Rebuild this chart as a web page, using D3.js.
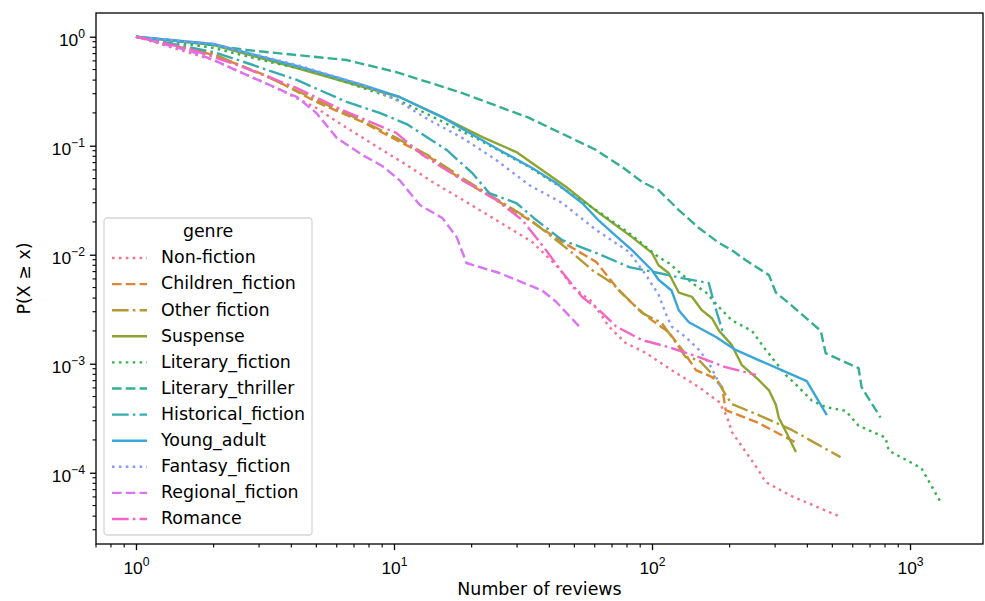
<!DOCTYPE html>
<html>
<head>
<meta charset="utf-8">
<script src="https://cdn.jsdelivr.net/npm/d3@7"></script>
<style>
  body { margin: 0; background: #fff; }
  svg { display: block; font-family: "DejaVu Sans", sans-serif; }
</style>
</head>
<body>
<svg id="chart" width="985" height="601"></svg>
<script>
// CCDF of reviews per genre: [reviews, P(X >= x)]
var genres = ['Non-fiction', 'Children_fiction', 'Other fiction', 'Suspense', 'Literary_fiction',
  'Literary_thriller', 'Historical_fiction', 'Young_adult', 'Fantasy_fiction', 'Regional_fiction', 'Romance'];

var nonFiction = [[1,1],[2,0.61],[3.5,0.338],[5,0.222],[6.3,0.155],[9,0.0914],[11.2,0.0665],[14.1,0.0465],
  [19.1,0.0304],[25.6,0.02],[34.3,0.0131],[43.7,0.0075],[49,0.0051],[58.6,0.0037],[68,0.0022],[79,0.00155],
  [95,0.00125],[119,0.000875],[152,0.00061],[182,0.000445],[195,0.00033],[204,0.000236],[231,0.000155],
  [257,0.000108],[276,0.000082],[348,0.000061],[543,0.000039]];
var childrenFiction = [[1,1],[2,0.68],[3.3,0.427],[5,0.252],[7.55,0.165],[10.2,0.113],[13.7,0.0787],[18.4,0.0484],
  [24.9,0.0318],[33.4,0.0208],[44.9,0.0131],[60.7,0.0086],[74.5,0.0047],[86.8,0.0033],[100,0.0025],[116,0.00195],
  [131,0.00134],[148,0.000875],[171,0.000755],[187,0.00061],[193,0.000376],[259,0.000286],[364,0.000187]];
var otherFiction = [[1,1],[2,0.694],[3.3,0.418],[5,0.263],[7.55,0.169],[10.2,0.118],[13.7,0.0805],[18.4,0.0506],
  [24.9,0.0325],[33.4,0.0213],[47.7,0.011],[58.6,0.00724],[70,0.0055],[79.3,0.00409],[91.5,0.00292],[109,0.00237],
  [124,0.00155],[135,0.00115],[152,0.00108],[177,0.00074],[193,0.000517],[204,0.000427],[259,0.000338],
  [348,0.000247],[538,0.000139]];
var suspense = [[1,1],[2,0.839],[4.2,0.516],[7.55,0.346],[10.5,0.28],[15.4,0.183],[22,0.12],[29.8,0.0875],
  [46.5,0.0418],[62.4,0.0241],[83.7,0.0145],[100,0.0104],[106,0.008],[116,0.0068],[127,0.0045],[143,0.0041],
  [156,0.0031],[171,0.0026],[182,0.002],[204,0.00148],[223,0.00097],[259,0.00071],[284,0.00057],[302,0.00042],
  [310,0.00032],[330,0.00024],[361,0.000155]];
var literaryFiction = [[1,1],[2,0.788],[3.3,0.586],[5,0.474],[8,0.324],[10.2,0.268],[13.7,0.191],[21.4,0.113],
  [33.4,0.0638],[44.9,0.0409],[60.7,0.0257],[81.5,0.0158],[106,0.0095],[116,0.0084],[143,0.0055],[162,0.0045],
  [182,0.0033],[204,0.0025],[244,0.002],[276,0.00134],[330,0.00079],[370,0.00061],[416,0.00046],[471,0.0004],
  [563,0.00037],[632,0.00027],[804,0.00021],[826,0.00016],[1107,0.00011],[1312,0.000054]];
var literaryThriller = [[1,1],[1.72,0.875],[2.69,0.755],[4.2,0.679],[6.55,0.611],[10.2,0.474],[18.4,0.304],
  [33.4,0.18],[60.7,0.0914],[76.6,0.0638],[91.5,0.0465],[106,0.0392],[127,0.0257],[152,0.0176],[182,0.0128],
  [204,0.011],[231,0.0089],[284,0.0065],[302,0.0045],[339,0.0036],[405,0.0025],[451,0.002],[471,0.00125],
  [632,0.00091],[649,0.00061],[769,0.00032]];
var historicalFiction = [[1,1],[2,0.724],[2.69,0.574],[4.2,0.401],[6.55,0.252],[8.8,0.2],[11.2,0.158],[16,0.0914],
  [20.1,0.0562],[23.4,0.0368],[29.8,0.0298],[35.6,0.0208],[44.9,0.0136],[60.7,0.0104],[81.5,0.0077],[106,0.0068],
  [131,0.0061],[166,0.0055],[174,0.0036],[190,0.0018]];
var youngAdult = [[1,1],[2,0.857],[4.2,0.539],[7.55,0.361],[10.5,0.28],[15.4,0.183],[20.9,0.12],[25.6,0.0914],
  [34.3,0.0625],[42.5,0.0455],[53.6,0.0298],[62.4,0.0204],[72.6,0.0148],[83.7,0.011],[100,0.0072],[106,0.0059],
  [119,0.0047],[127,0.0031],[139,0.0024],[177,0.00176],[211,0.00134],[259,0.00108],[318,0.000875],
  [398,0.000693],[476,0.000338]];
var fantasyFiction = [[1,1],[2,0.857],[4.2,0.55],[7.55,0.361],[10.2,0.263],[13.7,0.172],[18.4,0.118],[24.9,0.074],
  [33.4,0.0436],[44.9,0.0298],[60.7,0.0169],[81.5,0.0106],[94.8,0.0065],[106,0.0043],[113,0.0029],[119,0.0022],
  [135,0.00176],[152,0.00134],[166,0.00102],[177,0.00076],[185,0.00061]];
var regionalFiction = [[1,1],[1.62,0.739],[2,0.611],[2.53,0.474],[3.1,0.384],[4.2,0.28],[5,0.2],[6,0.118],
  [7.55,0.0822],[9,0.0652],[10.5,0.0484],[12.6,0.0286],[15.4,0.0217],[17.5,0.0145],[19.1,0.0084],[25.6,0.0068],
  [37.5,0.0047],[42.5,0.0037],[52.2,0.0022]];
var romance = [[1,1],[1.62,0.771],[2,0.651],[2.53,0.539],[4.2,0.338],[6.3,0.213],[10.2,0.131],[12.9,0.0822],
  [18.4,0.0484],[24.9,0.0318],[31.4,0.0208],[37.5,0.0123],[44.9,0.0069],[53.6,0.0041],[62.4,0.0031],[72.6,0.0022],
  [91.5,0.00165],[116,0.00142],[152,0.00115],[193,0.00093],[253,0.00079]];

var seriesData = [nonFiction, childrenFiction, otherFiction, suspense, literaryFiction, literaryThriller,
  historicalFiction, youngAdult, fantasyFiction, regionalFiction, romance];

var xTicks = [1, 10, 100, 1000];
var yTicks = [1, 0.1, 0.01, 0.001, 0.0001];

// husl palette, 11 colours
var colors = ['#f77189', '#df8532', '#b59a31', '#8da530', '#36b14f', '#34ae92',
  '#37abb2', '#39a6da', '#8b97f4', '#d974f4', '#f565c6'];
var lw = 2.6;
var dashes = [
  [1 * lw, 1.65 * lw].join(','),                    // dotted
  [3.7 * lw, 1.6 * lw].join(','),                   // dashed
  [6.4 * lw, 1.6 * lw, 1 * lw, 1.6 * lw].join(','), // dashdot
  null                                              // solid
];
var fs = '17.4px', supFs = '12.2px';

var margin = {top: 13, right: 2, bottom: 57, left: 96},
  width = 985 - margin.left - margin.right,
  height = 601 - margin.top - margin.bottom;

var x = d3.scaleLog().domain([0.70, 1918]).range([0, width]);
var y = d3.scaleLog().domain([2.22e-5, 1.65]).range([height, 0]);

var svg = d3.select('#chart');
var g = svg.append('g').attr('transform', 'translate(' + margin.left + ',' + margin.top + ')');

g.append('defs').append('clipPath').attr('id', 'clip')
  .append('rect').attr('width', width).attr('height', height);

// minor ticks
function minors(scale) {
  var d = scale.domain(), out = [];
  for (var e = Math.floor(Math.log10(d[0])); e <= Math.ceil(Math.log10(d[1])); e++) {
    for (var m = 2; m < 10; m++) {
      var v = m * Math.pow(10, e);
      if (v >= d[0] && v <= d[1]) out.push(v);
    }
  }
  return out;
}

function supLabel(sel, v) {
  var e = Math.round(Math.log10(v));
  sel.text('10');
  sel.append('tspan').attr('dy', -7.6).attr('font-size', supFs).text(String(e).replace('-', '\u2212'));
}

var xAxis = g.append('g').attr('transform', 'translate(0,' + height + ')');
xAxis.call(d3.axisBottom(x).tickValues(xTicks).tickSize(6.1).tickFormat(''));
minors(x).forEach(function(v) {
  xAxis.append('line').attr('x1', x(v)).attr('x2', x(v)).attr('y2', 3.5)
    .attr('stroke', '#000').attr('stroke-width', 1.1);
});
xAxis.selectAll('.tick').each(function(d) {
  d3.select(this).select('text').remove();
  d3.select(this).append('text').attr('y', 29.5).attr('text-anchor', 'middle')
    .attr('fill', '#000').attr('font-size', fs).call(supLabel, d);
});

var yAxis = g.append('g');
yAxis.call(d3.axisLeft(y).tickValues(yTicks).tickSize(6.1).tickFormat(''));
minors(y).forEach(function(v) {
  yAxis.append('line').attr('y1', y(v)).attr('y2', y(v)).attr('x2', -3.5)
    .attr('stroke', '#000').attr('stroke-width', 1.1);
});
yAxis.selectAll('.tick').each(function(d) {
  d3.select(this).select('text').remove();
  d3.select(this).append('text').attr('x', -11).attr('y', 8.8).attr('text-anchor', 'end')
    .attr('fill', '#000').attr('font-size', fs).call(supLabel, d);
});

g.selectAll('.domain').remove();
g.selectAll('.tick line').attr('stroke-width', 1.3);

// lines
var line = d3.line()
  .x(function(d) { return x(d[0]); })
  .y(function(d) { return y(d[1]); });

g.append('g').attr('clip-path', 'url(#clip)')
  .selectAll('path')
  .data(seriesData)
  .enter().append('path')
  .attr('d', line)
  .attr('fill', 'none')
  .attr('stroke', function(d, i) { return colors[i]; })
  .attr('stroke-width', 2.4)
  .attr('stroke-linejoin', 'round')
  .attr('stroke-dasharray', function(d, i) { return dashes[i % 4]; });

// frame
g.append('rect').attr('width', width).attr('height', height)
  .attr('fill', 'none').attr('stroke', '#000').attr('stroke-width', 1.3);

// axis labels
svg.append('text').attr('x', margin.left + width / 2).attr('y', 595)
  .attr('text-anchor', 'middle').attr('font-size', fs).text('Number of reviews');
svg.append('text').attr('transform', 'translate(30,' + (margin.top + height / 2) + ') rotate(-90)')
  .attr('text-anchor', 'middle').attr('font-size', fs).text('P(X \u2265 x)');

// legend
var legend = svg.append('g').attr('transform', 'translate(104,218)');
legend.append('rect').attr('width', 208).attr('height', 317).attr('rx', 3)
  .attr('fill', '#fff').attr('fill-opacity', 0.8).attr('stroke', '#d6d6d6').attr('stroke-width', 1.3);
legend.append('text').attr('x', 104).attr('y', 18.5).attr('text-anchor', 'middle')
  .attr('font-size', fs).text('genre');
var items = legend.selectAll('.item').data(genres).enter().append('g')
  .attr('class', 'item')
  .attr('transform', function(d, i) { return 'translate(0,' + (40 + i * 26.1) + ')'; });
items.append('line').attr('x1', 8).attr('x2', 43)
  .attr('stroke', function(d, i) { return colors[i]; })
  .attr('stroke-width', 2.4)
  .attr('stroke-dasharray', function(d, i) { return dashes[i % 4]; });
items.append('text').attr('x', 57).attr('y', 5.3).attr('font-size', fs).text(function(d) { return d; });
</script>
</body>
</html>
